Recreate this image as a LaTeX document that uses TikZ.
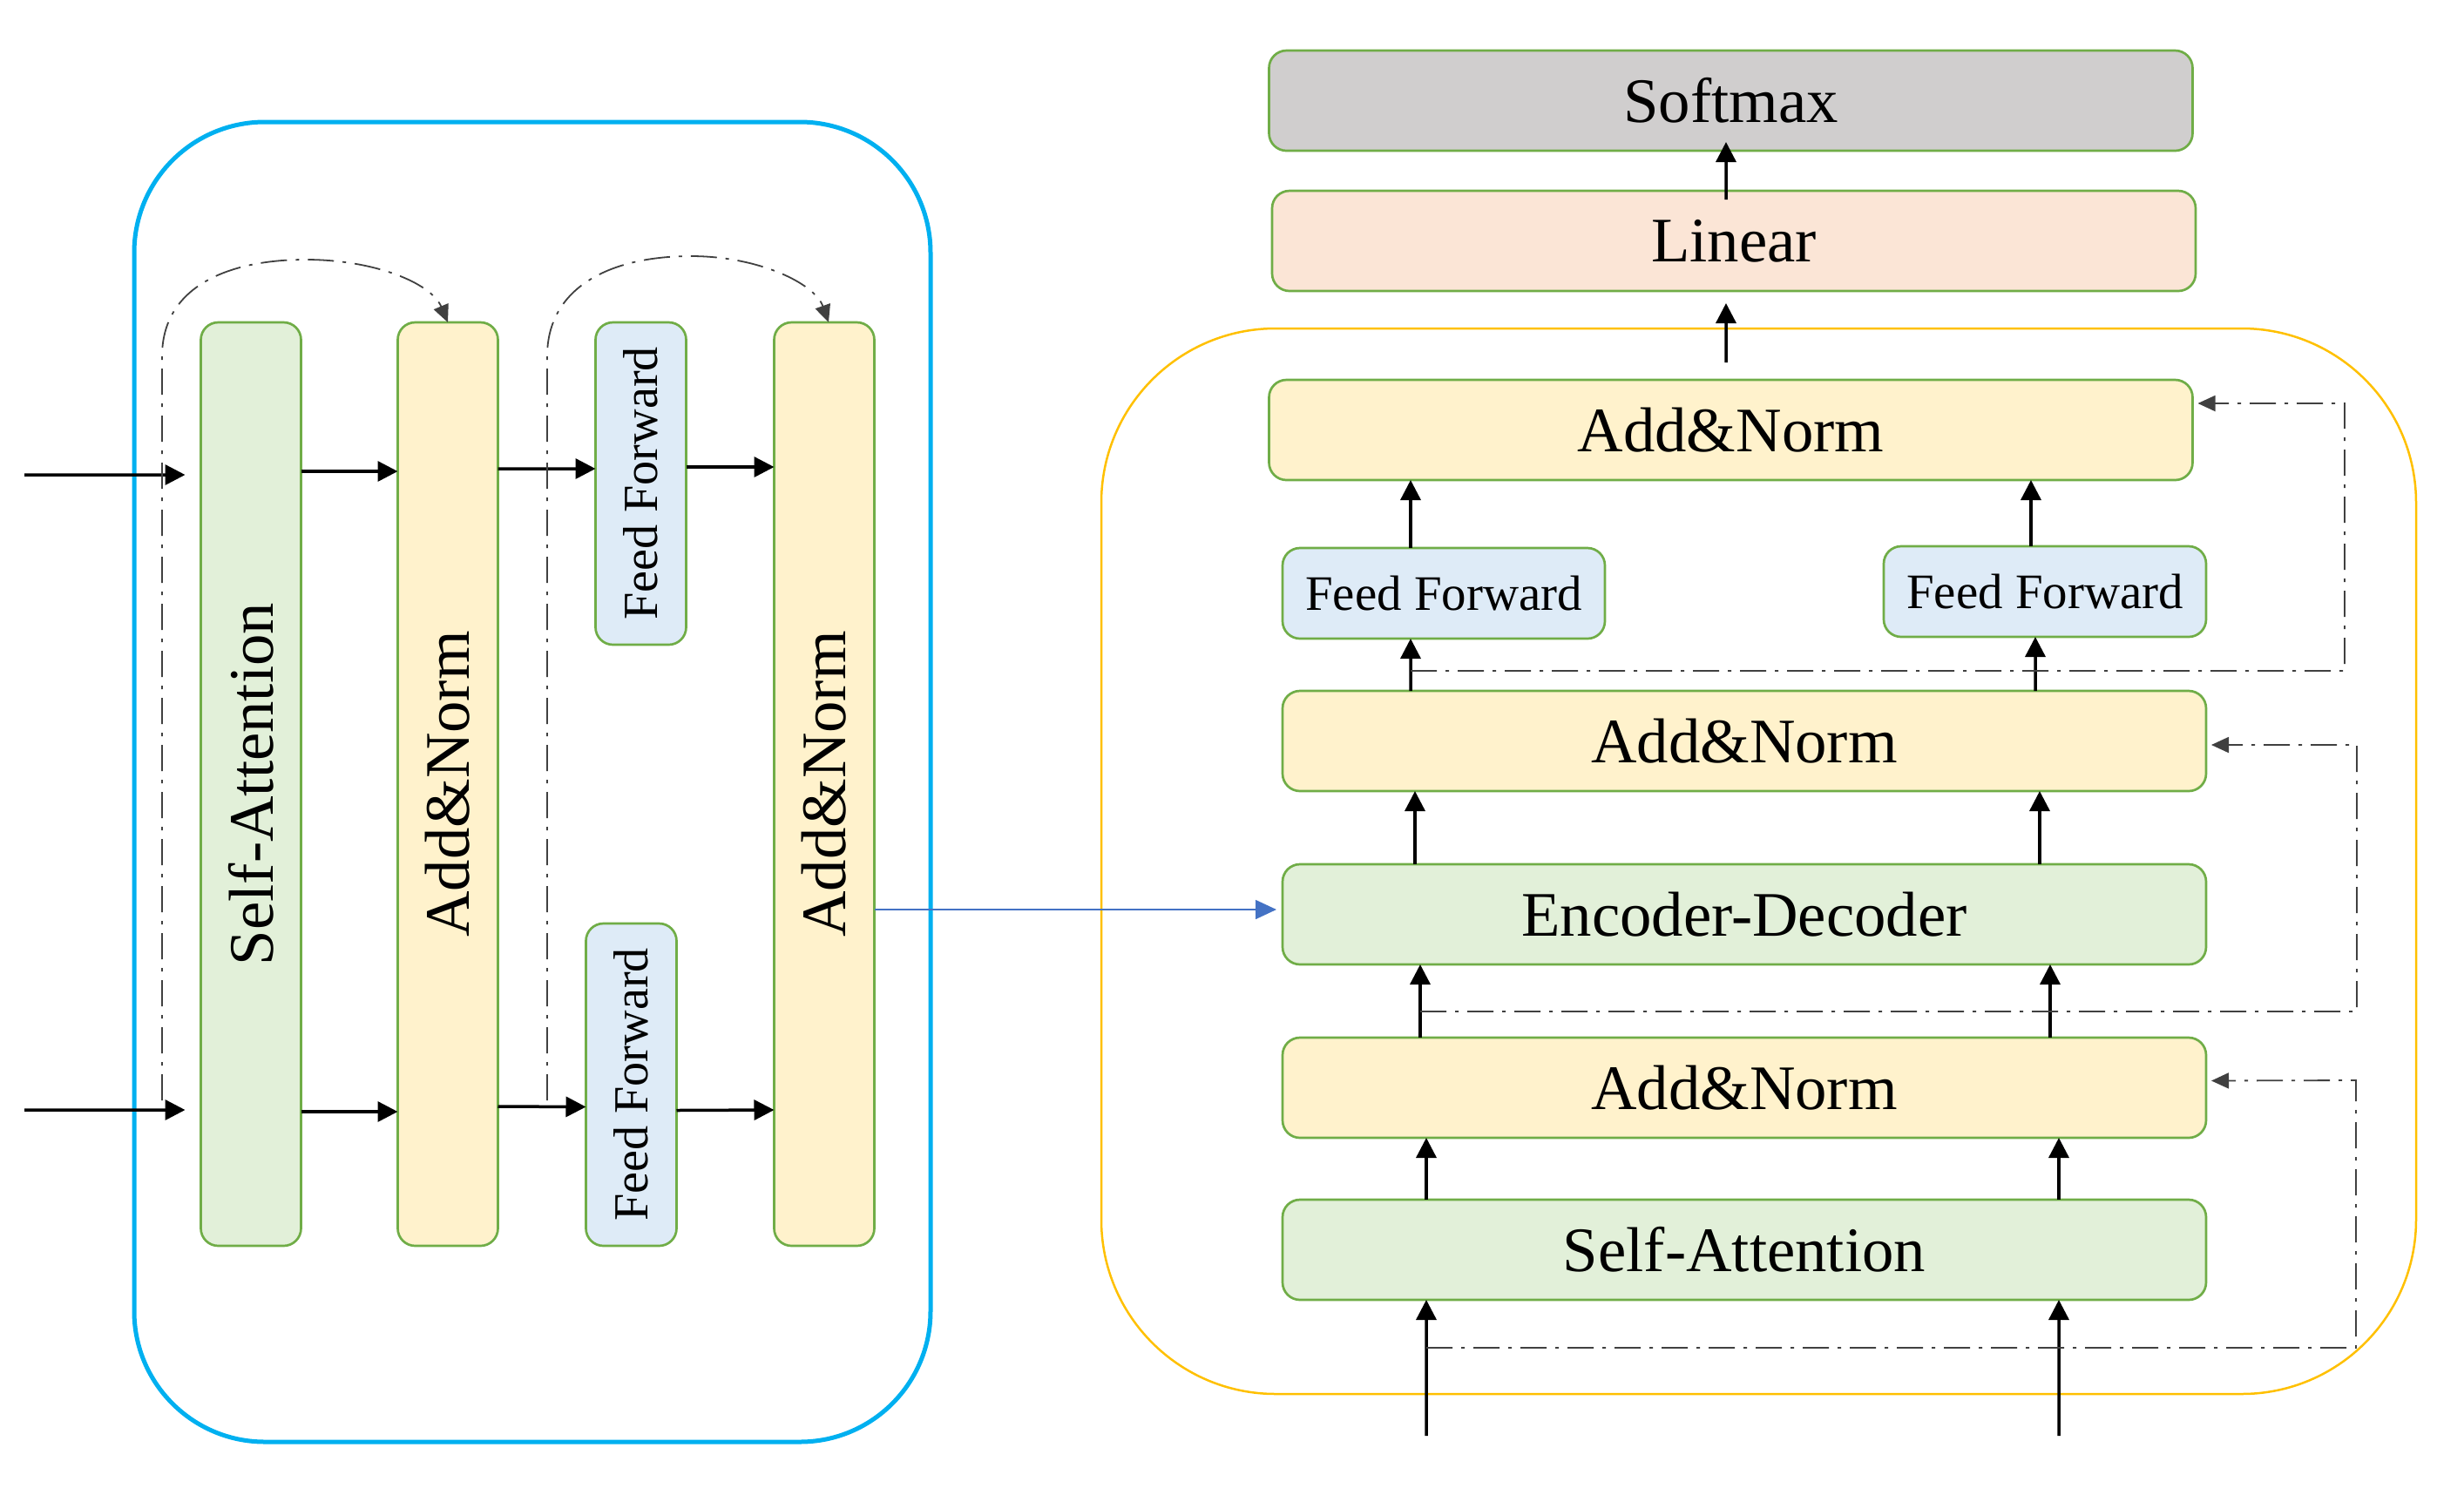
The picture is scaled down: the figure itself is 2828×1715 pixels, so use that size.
\documentclass[tikz,border=0pt]{standalone}
\usepackage{fontspec}
\setmainfont{Liberation Serif}
\usepackage{graphicx}
\usetikzlibrary{positioning,arrows.meta}
\definecolor{boxgreen}{HTML}{70AD47}
\definecolor{sagreen}{HTML}{E2F0D9}
\definecolor{anyellow}{HTML}{FFF2CC}
\definecolor{ffblue}{HTML}{DEEBF7}
\definecolor{linpeach}{HTML}{FBE5D6}
\definecolor{smgray}{HTML}{D0CECE}
\definecolor{encblue}{HTML}{00B0F0}
\definecolor{decyellow}{HTML}{FFC000}
\definecolor{linkblue}{HTML}{4472C4}
\definecolor{skipgray}{HTML}{404040}

\begin{document}
\begin{tikzpicture}[x=0.1mm,y=-0.1mm,>={Triangle[length=2.3mm,width=2.3mm]},
    block/.style={draw=boxgreen,line width=0.27mm,rounded corners=2mm,inner sep=0pt,outer sep=0pt},
    tall/.style={block,minimum width=11.5mm,minimum height=106mm,font=\fontsize{20.7}{24}\selectfont},
    wide/.style={block,minimum width=106mm,minimum height=11.5mm,font=\fontsize{20.7}{24}\selectfont},
    ffv/.style={block,fill=ffblue,minimum width=10.4mm,minimum height=37mm,font=\fontsize{16}{19}\selectfont},
    ffh/.style={block,fill=ffblue,minimum width=37mm,minimum height=10.4mm,font=\fontsize{16.2}{19}\selectfont},
    flow/.style={->,line width=0.35mm},
    skip/.style={draw=skipgray,line width=0.18mm,dash pattern=on 3mm off 1mm on 0.4mm off 1mm,-{Triangle[length=2mm,width=1.8mm]}}]
    \useasboundingbox (0,0) rectangle (2828,1715);
    \draw[draw=encblue,line width=0.5mm,rounded corners=15mm] (154,140) rectangle (1068,1655);
    \draw[draw=decyellow,line width=0.25mm,rounded corners=20mm] (1264,377) rectangle (2773,1600);

    \node[tall,fill=sagreen] (saL) at (288,900) {\rotatebox{90}{Self-Attention}};
    \node[tall,fill=anyellow] (anL1) [right=11.1mm of saL] {\rotatebox{90}{Add\&Norm}};
    \node[ffv] (ffL1) [right=11.2mm of anL1.north east, anchor=north west] {\rotatebox{90}{Feed Forward}};
    \node[ffv] (ffL2) [right=10.1mm of anL1.south east, anchor=south west] {\rotatebox{90}{Feed Forward}};
    \node[tall,fill=anyellow] (anL2) [right=31.7mm of anL1] {\rotatebox{90}{Add\&Norm}};

    \node[wide,fill=sagreen] (saR) at (2002,1434.5) {Self-Attention};
    \node[wide,fill=anyellow] (anR1) [above=7.1mm of saR] {Add\&Norm};
    \node[wide,fill=sagreen] (ed) [above=8.4mm of anR1] {Encoder-Decoder};
    \node[wide,fill=anyellow] (anR2) [above=8.4mm of ed] {Add\&Norm};
    \node[ffh] (ffR1) [above=6mm of anR2.north west, anchor=south west] {Feed Forward};
    \node[ffh] (ffR2) [above=6.2mm of anR2.north east, anchor=south east] {Feed Forward};
    \node[wide,fill=anyellow] (anR3) [above=24.2mm of anR2, xshift=-1.55mm] {Add\&Norm};
    \node[wide,fill=linpeach] (linear) [above=10.2mm of anR3, xshift=0.35mm] {Linear};
    \node[wide,fill=smgray] (softmax) [above=4.6mm of linear, xshift=-0.35mm] {Softmax};

    \coordinate (inL1) at (28,545);
    \coordinate (inL2) at (28,1274);
    \coordinate (brL1) at (186,1263);
    \coordinate (brL2) at (628,1263);
    \coordinate (inR1) at (1637,1648);
    \coordinate (inR2) at (2363,1648);
    \coordinate (brR1) at (1637,1547);
    \coordinate (brR2) at (1630,1161);
    \coordinate (brR3) at (1619,770);
    \coordinate (lk) at ([yshift=-14.4mm]anL2.east);

    \draw[flow,shorten >=1.8mm] (inL1) -- ([yshift=35.5mm]saL.west);
    \draw[flow] ([yshift=35.9mm]saL.east) -- ([yshift=35.9mm]anL1.west);
    \draw[flow] ([yshift=36.2mm]anL1.east) -- ([yshift=1.7mm]ffL1.west);
    \draw[flow] ([yshift=1.9mm]ffL1.east) -- ([yshift=36.4mm]anL2.west);
    \draw[flow,shorten >=1.8mm] (inL2) -- ([yshift=-37.4mm]saL.west);
    \draw[flow] ([yshift=-37.6mm]saL.east) -- ([yshift=-37.6mm]anL1.west);
    \draw[flow] ([yshift=-37mm]anL1.east) -- ([yshift=-2.55mm]ffL2.west);
    \draw[flow] ([yshift=-2.95mm]ffL2.east) -- ([yshift=-37.4mm]anL2.west);
    \draw[skip] (brL1) -- (186,409) .. controls (186,330) and (260,298) .. (351,298) .. controls (430,298) and (495,325) .. (anL1.north);
    \draw[skip] (brL2) -- (628,409) .. controls (628,330) and (700,294) .. (793,294) .. controls (870,294) and (935,325) .. ([xshift=0.5mm]anL2.north);

    \draw[draw=linkblue,line width=0.15mm,-{Triangle[length=2.4mm,width=2.2mm]},shorten >=0.7mm] (lk) -- (lk -| ed.west);

    \draw[flow] (inR1) -- ([xshift=-36.5mm]saR.south);
    \draw[flow] (inR2) -- ([xshift=36.1mm]saR.south);
    \draw[flow] ([xshift=-36.5mm]saR.north) -- ([xshift=-36.5mm]anR1.south);
    \draw[flow] ([xshift=36.1mm]saR.north) -- ([xshift=36.1mm]anR1.south);
    \draw[flow] ([xshift=-37.2mm]anR1.north) -- ([xshift=-37.2mm]ed.south);
    \draw[flow] ([xshift=35.1mm]anR1.north) -- ([xshift=35.1mm]ed.south);
    \draw[flow] ([xshift=-37.8mm]ed.north) -- ([xshift=-37.8mm]anR2.south);
    \draw[flow] ([xshift=33.9mm]ed.north) -- ([xshift=33.9mm]anR2.south);
    \draw[flow] ([xshift=-38.3mm]anR2.north) -- ([xshift=-3.8mm]ffR1.south);
    \draw[flow] ([xshift=33.4mm]anR2.north) -- ([xshift=-1.1mm]ffR2.south);
    \draw[flow] ([xshift=-3.8mm]ffR1.north) -- ([xshift=-36.75mm]anR3.south);
    \draw[flow] ([xshift=-1.6mm]ffR2.north) -- ([xshift=34.45mm]anR3.south);
    \draw[flow,shorten <=2mm,shorten >=1.4mm] ([xshift=-0.55mm]anR3.north) -- ([xshift=-0.9mm]linear.south);
    \draw[flow,shorten <=-1mm,shorten >=-1mm] ([xshift=-0.9mm]linear.north) -- ([xshift=-0.55mm]softmax.south);

    \draw[skip,shorten >=0.6mm] (brR1) -- (2704,1547) -- (2704,1240) -- ([yshift=0.8mm]anR1.east);
    \draw[skip,shorten >=0.6mm] (brR2) -- (2705,1161) -- (2705,855) -- ([yshift=-0.45mm]anR2.east);
    \draw[skip,shorten >=0.6mm] (brR3) -- (2691,770) -- (2691,463) -- ([yshift=3.05mm]anR3.east);
\end{tikzpicture}
\end{document}
